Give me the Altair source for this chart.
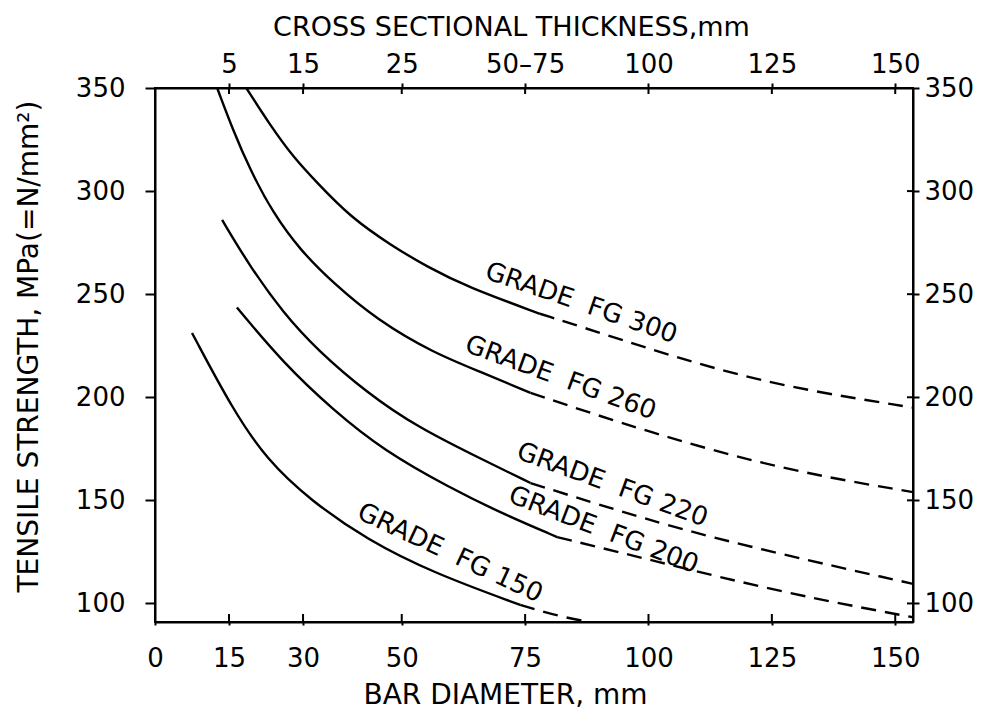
import altair as alt
import pandas as pd

# ---------------- data ----------------
x_ticks = [0, 15, 30, 50, 75, 100, 125, 150]
top_tick_values = [15, 30, 50, 75, 100, 125, 150]
top_tick_labels = ["5", "15", "25", "50–75", "100", "125", "150"]
y_ticks = [100, 150, 200, 250, 300, 350]

grades = ["FG 300", "FG 260", "FG 220", "FG 200", "FG 150"]

fg300_solid_x = [18.5, 23.3, 28.0, 32.9, 39.6, 47.7, 55.2, 63.3, 78.0]
fg300_solid_y = [350, 332.1, 316.5, 303.9, 287.4, 273.9, 263.2, 253.5, 240.5]
fg300_dash_x = [78.0, 90.3, 107.1, 127.4, 153.6]
fg300_dash_y = [240.5, 231.2, 218.1, 205.0, 195.0]

fg260_solid_x = [12.6, 15.8, 19.3, 23.9, 29.4, 36.1, 45.0, 56.4, 66.5, 76.1]
fg260_solid_y = [350, 329.6, 310.2, 289.4, 271.4, 255.4, 237.5, 221.5, 211.8, 202.1]
fg260_dash_x = [76.1, 100.4, 127.4, 153.6]
fg260_dash_y = [202.1, 182.7, 164.7, 154.0]

fg220_solid_x = [13.6, 19.3, 26.0, 32.9, 43.0, 53.1, 66.5, 76.1]
fg220_solid_y = [286.0, 263.2, 240.9, 222.9, 202.1, 185.6, 169.6, 158.4]
fg220_dash_x = [76.1, 93.7, 114.0, 153.6]
fg220_dash_y = [158.4, 145.1, 130.8, 109.5]

fg200_solid_x = [16.6, 26.0, 36.1, 46.2, 59.8, 70.0, 81.5]
fg200_solid_y = [243.5, 216.6, 193.8, 174.4, 156.0, 144.0, 132.2]
fg200_dash_x = [81.5, 100.4, 127.4, 153.6]
fg200_dash_y = [132.2, 121.1, 105.1, 93.3]

fg150_solid_x = [7.5, 15.8, 22.7, 31.4, 43.0, 56.4, 74.0]
fg150_solid_y = [231.2, 193.8, 169.6, 150.2, 130.8, 114.8, 99.3]
fg150_dash_x = [74.0, 82.2, 89.0]
fg150_dash_y = [99.3, 93.5, 90.6]

label_text = ["GRADE\u00a0\u00a0FG 300", "GRADE\u00a0\u00a0FG 260", "GRADE\u00a0\u00a0FG 220",
              "GRADE\u00a0\u00a0FG 200", "GRADE\u00a0\u00a0FG 150"]
label_x = [86.4, 82.2, 92.7, 90.9, 59.8]
label_y = [245.7, 209.4, 157.5, 135.6, 124.5]
label_angle = [19, 20, 20, 21, 25]

# ---------------- tables ----------------
solid_sets = [(fg300_solid_x, fg300_solid_y), (fg260_solid_x, fg260_solid_y),
              (fg220_solid_x, fg220_solid_y), (fg200_solid_x, fg200_solid_y),
              (fg150_solid_x, fg150_solid_y)]
dash_sets = [(fg300_dash_x, fg300_dash_y), (fg260_dash_x, fg260_dash_y),
             (fg220_dash_x, fg220_dash_y), (fg200_dash_x, fg200_dash_y),
             (fg150_dash_x, fg150_dash_y)]

def build(sets):
    rows = []
    for g, (xs, ys) in zip(grades, sets):
        for a, b in zip(xs, ys):
            rows.append({"grade": g, "d": a, "s": b})
    return pd.DataFrame(rows)

solid_df = build(solid_sets)
dash_df = build(dash_sets)
label_df = pd.DataFrame({"t": label_text, "d": label_x, "s": label_y, "a": label_angle})

W, H = 758, 534
FONT = "DejaVu Sans"

xscale = alt.Scale(domain=[0, 153.6], nice=False, zero=False)
yscale = alt.Scale(domain=[91, 350], nice=False, zero=False)

expr = "''"
for v, l in reversed(list(zip(top_tick_values, top_tick_labels))):
    expr = f"datum.value == {v} ? '{l}' : ({expr})"

solid = alt.Chart(solid_df).mark_line(
    color="black", strokeWidth=2.4, interpolate="basis", clip=True
).encode(
    x=alt.X("d:Q", scale=xscale, axis=alt.Axis(
        orient="bottom", values=x_ticks, title="BAR DIAMETER, mm",
        tickSize=3, labelPadding=20, titlePadding=10, labelFlush=False, titleX=350)),
    y=alt.Y("s:Q", scale=yscale, axis=alt.Axis(
        orient="left", values=y_ticks, title="TENSILE STRENGTH, MPa(=N/mm²)",
        tickSize=10, labelPadding=20, titlePadding=32, labelFlush=False, titleY=258)),
    detail="grade:N",
)

dashed = alt.Chart(dash_df).mark_line(
    color="black", strokeWidth=2.4, interpolate="basis", strokeDash=[15, 9], clip=True
).encode(
    x=alt.X("d:Q", scale=xscale, axis=None),
    y=alt.Y("s:Q", scale=yscale, axis=None),
    detail="grade:N",
)

labels = alt.Chart(label_df).mark_text(
    font=FONT, fontSize=26, color="black", align="center", baseline="middle"
).encode(
    x=alt.X("d:Q", scale=xscale, axis=None),
    y=alt.Y("s:Q", scale=yscale, axis=None),
    text="t:N",
    angle=alt.Angle("a:Q", scale=None),
)

bottom_ticks = alt.Chart(pd.DataFrame({"t": x_ticks[1:]})).mark_rule(
    color="black", strokeWidth=2
).encode(
    x=alt.X("t:Q", scale=xscale, axis=None),
    y=alt.value(H), y2=alt.value(H - 8),
)

top_ticks = alt.Chart(pd.DataFrame({"t": top_tick_values})).mark_rule(
    color="black", strokeWidth=2
).encode(
    x=alt.X("t:Q", scale=xscale, axis=alt.Axis(
        orient="top", values=top_tick_values, labelExpr=expr,
        title="CROSS SECTIONAL THICKNESS,mm", tickSize=5, labelPadding=6,
        titlePadding=10, labelFlush=False, titleX=356, titleFontSize=27)),
    y=alt.value(0), y2=alt.value(6),
)

right_ticks = alt.Chart(pd.DataFrame({"t": y_ticks})).mark_rule(
    color="black", strokeWidth=2
).encode(
    y=alt.Y("t:Q", scale=yscale, axis=alt.Axis(
        orient="right", values=y_ticks, title=None, tickSize=6, labelPadding=5,
        labelFlush=False)),
    x=alt.value(W), x2=alt.value(W - 6),
)

chart = alt.layer(solid, dashed, labels, bottom_ticks, top_ticks, right_ticks).resolve_axis(
    x="independent", y="independent"
).properties(
    width=W, height=H,
    autosize=alt.AutoSizeParams(type="none"),
    padding={"left": 147, "top": 80, "right": 60, "bottom": 90},
    background="white",
).configure_view(
    stroke="black", strokeWidth=2
).configure_axis(
    grid=False,
    domainColor="black", domainWidth=2,
    tickColor="black", tickWidth=2,
    labelColor="black", labelFont=FONT, labelFontSize=26,
    titleColor="black", titleFont=FONT, titleFontSize=28, titleFontWeight="normal",
)

chart.save("out.html", embed_options={"renderer": "svg", "actions": False})
